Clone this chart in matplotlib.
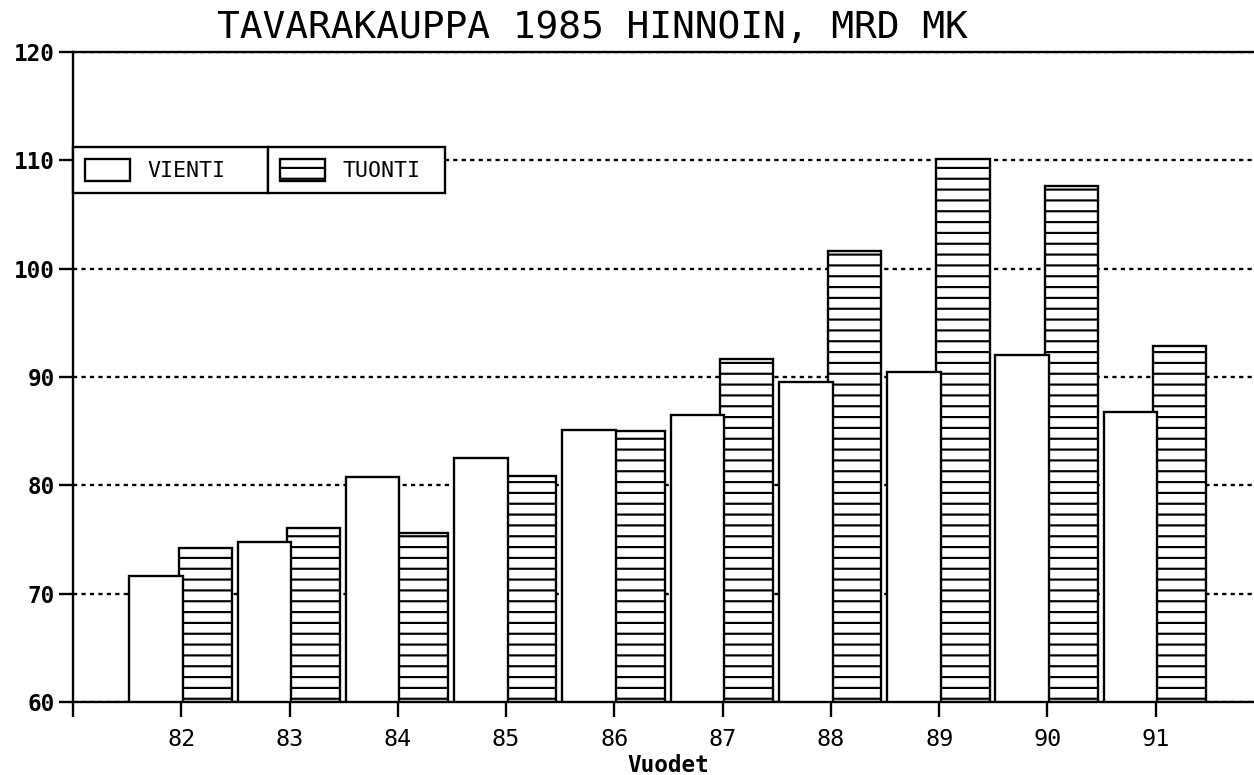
import matplotlib
matplotlib.use("Agg")
import matplotlib.pyplot as plt

# ---- data ----
years = [82, 83, 84, 85, 86, 87, 88, 89, 90, 91]
vienti = [71.6, 74.8, 80.8, 82.5, 85.1, 86.5, 89.5, 90.5, 92.0, 86.8]
tuonti = [74.2, 76.1, 75.6, 80.9, 85.0, 91.7, 101.6, 110.1, 107.6, 92.9]
xtick_pos = [81] + years
xtick_labels = [""] + [str(y) for y in years]
yticks = [60, 70, 80, 90, 100, 110, 120]
title = "TAVARAKAUPPA 1985 HINNOIN, MRD MK"
xlabel = "Vuodet"
series_names = ["VIENTI", "TUONTI"]

DPI = 130
W, H = 1254, 775
plt.rcParams["font.family"] = ["DejaVu Sans Mono", "DejaVu Sans"]
plt.rcParams["hatch.linewidth"] = 1.2
plt.rcParams["hatch.color"] = "black"

fig = plt.figure(figsize=(W / DPI, H / DPI), dpi=DPI)
ax = fig.add_axes([73 / W, 73 / H, (1264 - 73) / W, (702 - 52) / H])

lw = 1.3
tb = ax.bar([x - 0.025 for x in years], [t - 60 for t in tuonti], bottom=60,
            width=0.49, align="edge", facecolor="white", edgecolor="black",
            linewidth=lw, hatch="--", zorder=2, label=series_names[1])
vb = ax.bar([x - 0.48 for x in years], [v - 60 for v in vienti], bottom=60,
            width=0.495, align="edge", facecolor="white", edgecolor="black",
            linewidth=lw, zorder=3, label=series_names[0])

ax.set_xlim(81, 92)
ax.set_ylim(60, 120)
ax.set_xticks(xtick_pos)
ax.set_xticklabels(xtick_labels, fontsize=13)
ax.set_yticks(yticks)
ax.set_yticklabels([str(y) for y in yticks], fontsize=12.5, fontweight="bold")
ax.tick_params(axis="x", direction="out", length=8.3, width=lw, pad=6)
ax.tick_params(axis="y", direction="out", length=7.5, width=lw, pad=2.5)

for s in ["left", "bottom", "top"]:
    ax.spines[s].set_linewidth(lw)
    ax.spines[s].set_color("black")
ax.spines["right"].set_visible(False)

ax.set_axisbelow(True)
ax.grid(axis="y", color="black", linestyle=(0, (1.8, 1.8)), linewidth=lw, zorder=1)

# x label
ax.set_xlabel(xlabel, fontsize=12.5, fontweight="bold")
ax.xaxis.label.set_va("baseline")
ax.xaxis.set_label_coords(0.5, -(772 - 702) / 650)

# title
fig.text(592 / W, (775 - 38) / H, title, fontsize=21, ha="center",
         va="baseline")

# legends (two adjacent boxes)
common = dict(loc="lower left", bbox_transform=fig.transFigure, mode="expand",
              borderaxespad=0, fancybox=False, edgecolor="black", framealpha=1,
              fontsize=12, handlelength=2.07, handleheight=1.2,
              handletextpad=0.8, borderpad=0.55)
y0 = (775 - 193) / H
leg1 = ax.legend([vb], [series_names[0]],
                 bbox_to_anchor=(73 / W, y0, (268 - 73) / W, 0), **common)
leg1.get_frame().set_linewidth(lw)
ax.add_artist(leg1)
leg2 = ax.legend([tb], [series_names[1]],
                 bbox_to_anchor=(268 / W, y0, (445 - 268) / W, 0), **common)
leg2.get_frame().set_linewidth(lw)

fig.savefig("out.png", dpi=DPI, facecolor="white")
